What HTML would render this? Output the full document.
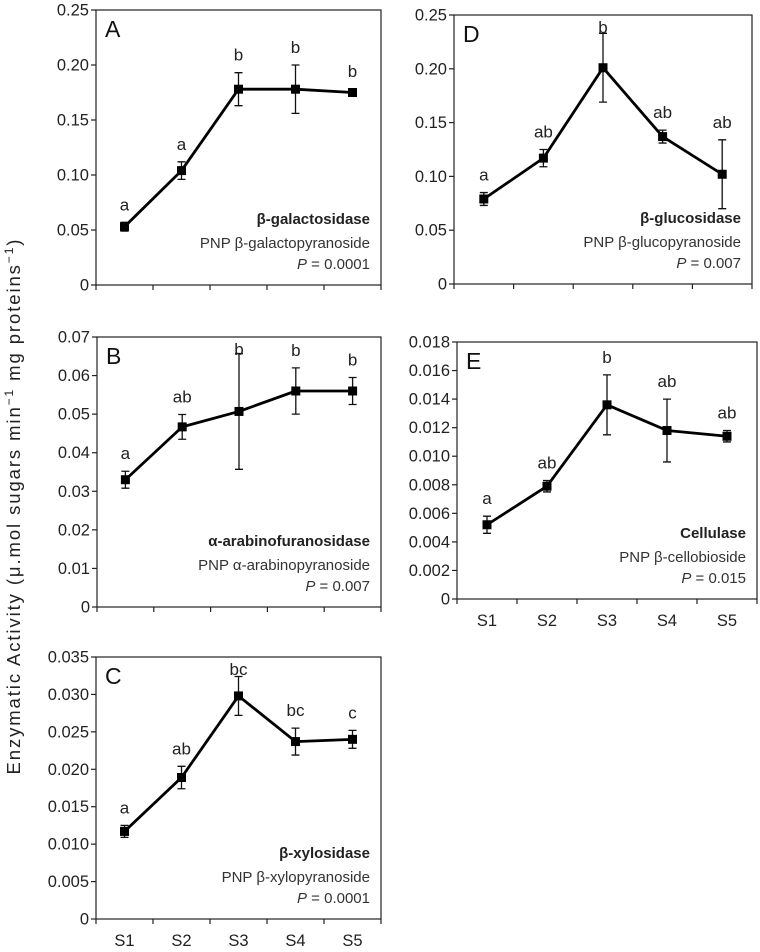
<!DOCTYPE html>
<html><head><meta charset="utf-8">
<style>
html,body{margin:0;padding:0;background:#fff;}
svg{display:block;font-family:"Liberation Sans",Arial,sans-serif;}
</style></head>
<body>
<svg id="fig" width="760" height="952" viewBox="0 0 760 952" xmlns="http://www.w3.org/2000/svg">
<text transform="translate(20,507) rotate(-90)" text-anchor="middle" font-size="18.5" fill="#222" textLength="535" lengthAdjust="spacing">Enzymatic Activity (μ.mol sugars min<tspan dy="-7" font-size="12">−1</tspan><tspan dy="7"> mg proteins</tspan><tspan dy="-7" font-size="12">−1</tspan><tspan dy="7">)</tspan></text>
</svg>
<script>
const categories = ["S1","S2","S3","S4","S5"];
const valuesA = [0.053,0.104,0.178,0.178,0.175];
const errorsA = [0.004,0.008,0.015,0.022,0.003];
const lettersA = ["a","a","b","b","b"];
const ticksA = ["0","0.05","0.10","0.15","0.20","0.25"];
const valuesB = [0.033,0.0467,0.0507,0.056,0.056];
const errorsB = [0.0022,0.0032,0.015,0.006,0.0035];
const lettersB = ["a","ab","b","b","b"];
const ticksB = ["0","0.01","0.02","0.03","0.04","0.05","0.06","0.07"];
const valuesC = [0.0117,0.0189,0.0298,0.0237,0.0240];
const errorsC = [0.0008,0.0015,0.0026,0.0018,0.0012];
const lettersC = ["a","ab","bc","bc","c"];
const ticksC = ["0","0.005","0.010","0.015","0.020","0.025","0.030","0.035"];
const valuesD = [0.079,0.117,0.201,0.137,0.102];
const errorsD = [0.006,0.008,0.032,0.006,0.032];
const lettersD = ["a","ab","b","ab","ab"];
const ticksD = ["0","0.05","0.10","0.15","0.20","0.25"];
const valuesE = [0.0052,0.0079,0.0136,0.0118,0.0114];
const errorsE = [0.0006,0.0004,0.0021,0.0022,0.0004];
const lettersE = ["a","ab","b","ab","ab"];
const ticksE = ["0","0.002","0.004","0.006","0.008","0.010","0.012","0.014","0.016","0.018"];

const NS="http://www.w3.org/2000/svg";
const svg=document.getElementById('fig');
function mk(tag,attrs,parent){const e=document.createElementNS(NS,tag);for(const k in attrs)e.setAttribute(k,attrs[k]);(parent||svg).appendChild(e);return e;}

function panel(id,box,vals,errs,letters,ticks,max,title,sub,pval,showX){
  const g=mk('g',{});
  
  
  const L=box.l,R=box.r,T=box.t,B=box.b;
  const y=v=>B-(v/max)*(B-T);
  const bw=(R-L)/categories.length;
  const x=i=>L+bw*(i+0.5);
  const frame=mk('rect',{x:L,y:T,width:R-L,height:B-T,fill:'none',stroke:'#222','stroke-width':1.2},g);
  
  
  ticks.forEach(t=>{
    const v=parseFloat(t), yy=y(v);
    mk('line',{x1:L-5,x2:L,y1:yy,y2:yy,stroke:'#222','stroke-width':1.2},g);
    const tx=mk('text',{x:L-7,y:yy+5.5,'text-anchor':'end','font-size':16.5,fill:'#222'},g);
    tx.textContent=t;
    
    
  });
  for(let i=0;i<=categories.length;i++){
    const xx=L+bw*i;
    mk('line',{x1:xx,x2:xx,y1:B,y2:B+5,stroke:'#222','stroke-width':1.2},g);
  }
  if(showX){
    categories.forEach((c,i)=>{
      const tx=mk('text',{x:x(i),y:B+27,'text-anchor':'middle','font-size':16.5,fill:'#222'},g);
      tx.textContent=c;
      
      
    });
  }
  const pl=mk('polyline',{points:vals.map((v,i)=>x(i)+','+y(v)).join(' '),fill:'none',stroke:'#000','stroke-width':2.8,'stroke-linejoin':'round'},g);
  
  
  vals.forEach((v,i)=>{
    const xx=x(i), top=y(v+errs[i]), bot=y(v-errs[i]);
    const eb=mk('path',{d:`M${xx},${top}V${bot}M${xx-4},${top}H${xx+4}M${xx-4},${bot}H${xx+4}`,stroke:'#111','stroke-width':1.3,fill:'none'},g);
    
    
    const m=mk('rect',{x:xx-4.5,y:y(v)-4.5,width:9,height:9,fill:'#000'},g);
    
    
    const lt=mk('text',{x:xx,y:Math.max(top-12,T+18),'text-anchor':'middle','font-size':17,fill:'#222'},g);
    lt.textContent=letters[i];
    
    
  });
  const pt=mk('text',{x:L+9,y:T+27,'font-size':23,fill:'#111'},g);
  pt.textContent=id;
  
  
  const rx=R-11;
  const t1=mk('text',{x:rx,y:B-61,'text-anchor':'end','font-size':15,'font-weight':'bold',fill:'#222'},g);
  t1.textContent=title;
  
  
  const t2=mk('text',{x:rx,y:B-37,'text-anchor':'end','font-size':15,fill:'#333'},g);
  t2.textContent=sub;
  
  
  const t3=mk('text',{x:rx,y:B-16,'text-anchor':'end','font-size':15,fill:'#333'},g);
  t3.innerHTML='<tspan font-style="italic">P</tspan> = '+pval;
  
  
}
panel('A',{l:96,r:381,t:10,b:285},valuesA,errorsA,lettersA,ticksA,0.25,'β-galactosidase','PNP β-galactopyranoside','0.0001',false);
panel('B',{l:97,r:381,t:337,b:607},valuesB,errorsB,lettersB,ticksB,0.07,'α-arabinofuranosidase','PNP α-arabinopyranoside','0.007',false);
panel('C',{l:96,r:381,t:657,b:919},valuesC,errorsC,lettersC,ticksC,0.035,'β-xylosidase','PNP β-xylopyranoside','0.0001',true);
panel('D',{l:454,r:752,t:15,b:284},valuesD,errorsD,lettersD,ticksD,0.25,'β-glucosidase','PNP β-glucopyranoside','0.007',false);
panel('E',{l:457,r:757,t:342,b:599},valuesE,errorsE,lettersE,ticksE,0.018,'Cellulase','PNP β-cellobioside','0.015',true);
</script>
</body></html>
